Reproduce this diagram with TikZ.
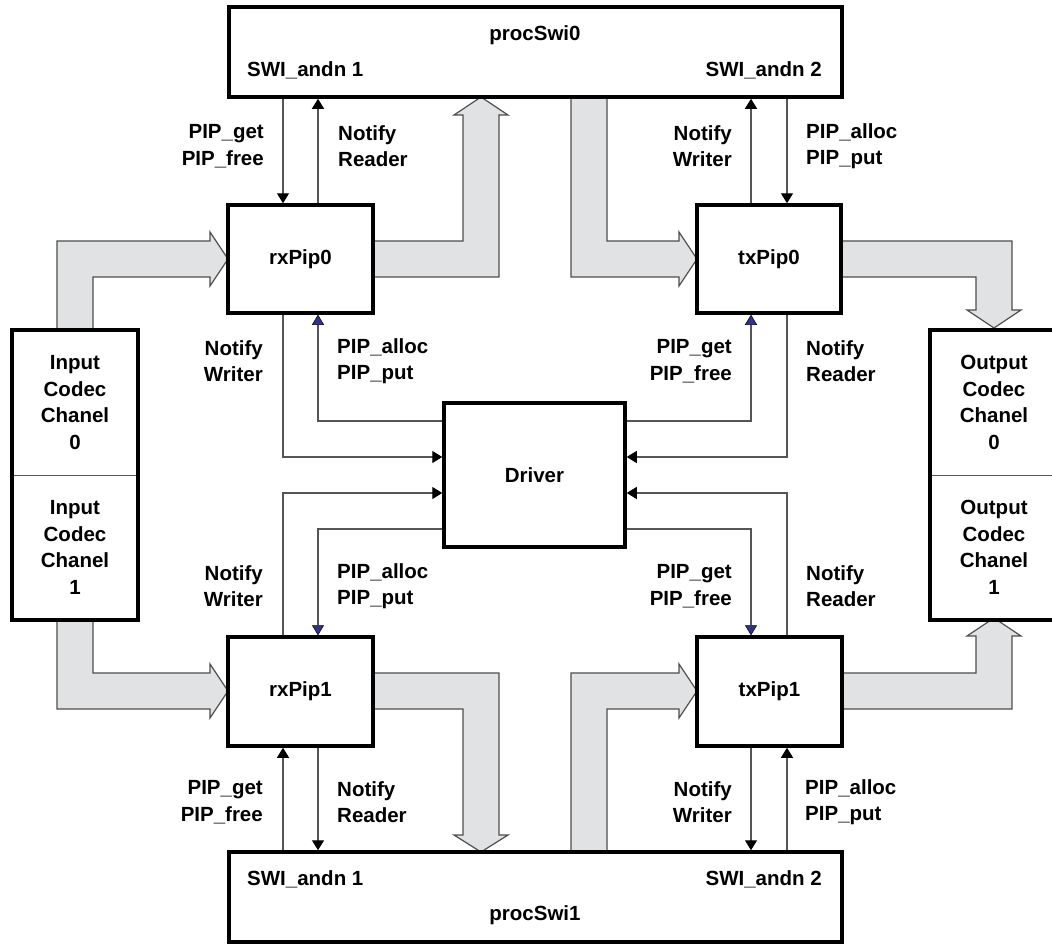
\documentclass[tikz,border=0pt]{standalone}
\usepackage{fontspec}
\setmainfont{Liberation Sans}
\usetikzlibrary{arrows.meta}
\definecolor{fatfill}{HTML}{E1E2E4}
\definecolor{fatdraw}{HTML}{4D4D4D}
\definecolor{connc}{HTML}{555555}
\definecolor{bluetip}{HTML}{2E3192}
\tikzset{
  lblfont/.style={font=\fontsize{20.5}{26.5}\selectfont\bfseries},
  box/.style={draw=black, line width=3.5pt, fill=white, inner sep=0pt},
  cell/.style={draw=connc, line width=1pt, inner sep=0pt, lblfont, align=center},
  txt/.style={lblfont, inner sep=0pt, align=center},
  lbll/.style={lblfont, inner sep=0pt, align=left, anchor=west},
  lblr/.style={lblfont, inner sep=0pt, align=right, anchor=east},
  fat/.style={fill=fatfill, draw=fatdraw, line width=1.2pt, line join=miter},
  conn/.style={draw=connc, line width=1.3pt},
  blk/.style={conn, -{Triangle[length=10pt,width=12pt,color=black]}},
  blu/.style={conn, -{Triangle[length=10pt,width=12pt,color=black,fill=bluetip,line width=0.5pt]}}
}
\begin{document}
\begin{tikzpicture}[x=1pt,y=-1pt]
\useasboundingbox (0,0) rectangle (1052,943);

% fat arrows
\draw[fat] (57,330) -- (57,241) -- (210,241) -- (210,232) -- (228,259) -- (210,286) -- (210,277) -- (93,277) -- (93,330);
\draw[fat] (57,620) -- (57,709) -- (210,709) -- (210,718) -- (228,691) -- (210,664) -- (210,673) -- (93,673) -- (93,620);
\draw[fat] (373,241) -- (463,241) -- (463,115) -- (454,115) -- (481,97) -- (508,115) -- (499,115) -- (499,277) -- (373,277);
\draw[fat] (373,673) -- (499,673) -- (499,835) -- (508,835) -- (481,852) -- (454,835) -- (463,835) -- (463,709) -- (373,709);
\draw[fat] (571,97) -- (571,277) -- (679,277) -- (679,286) -- (697,259) -- (679,232) -- (679,241) -- (607,241) -- (607,97);
\draw[fat] (571,852) -- (571,673) -- (679,673) -- (679,664) -- (697,691) -- (679,718) -- (679,709) -- (607,709) -- (607,852);
\draw[fat] (840,241) -- (1012,241) -- (1012,310) -- (1021,310) -- (994,328) -- (967,310) -- (976,310) -- (976,277) -- (840,277);
\draw[fat] (842,709) -- (1012,709) -- (1012,636) -- (1021,636) -- (994,618) -- (967,636) -- (976,636) -- (976,673) -- (842,673);

% boxes
\node[box, minimum width=613pt, minimum height=90pt] (swi0) at (535.5,52) {};
\node[box, minimum width=613pt, minimum height=90pt] (swi1) at (535.5,897) {};
\node[box, minimum width=145pt, minimum height=108pt, lblfont] (rx0) at (300.5,259) {rxPip0};
\node[box, minimum width=144pt, minimum height=108pt, lblfont] (tx0) at (769,259) {txPip0};
\node[box, minimum width=145pt, minimum height=109pt, lblfont] (rx1) at (300.5,691.5) {rxPip1};
\node[box, minimum width=145pt, minimum height=109pt, lblfont] (tx1) at (769.5,691.5) {txPip1};
\node[box, minimum width=181pt, minimum height=144pt, lblfont] (drv) at (534.5,475) {Driver};

\node[cell, fill=white, minimum width=126pt, minimum height=145pt] (in0) at (75,402.5) {Input\\Codec\\Chanel\\0};
\node[cell, fill=white, minimum width=126pt, minimum height=145pt] (in1) at (75,547.5) {Input\\Codec\\Chanel\\1};
\draw[line width=3.5pt] (12,330) rectangle (138,620);
\node[cell, fill=white, minimum width=128pt, minimum height=145pt] (out0) at (994,402.5) {Output\\Codec\\Chanel\\0};
\node[cell, fill=white, minimum width=128pt, minimum height=145pt] (out1) at (994,547.5) {Output\\Codec\\Chanel\\1};
\draw[line width=3.5pt] (930,330) rectangle (1058,620);

% texts inside proc boxes
\node[txt] (t0) at (535,35) {procSwi0};
\node[lbll] (a01) at (247,70) {SWI\_andn 1};
\node[lblr] (a02) at (822,70) {SWI\_andn 2};
\node[txt] (t1) at (535,915) {procSwi1};
\node[lbll] (a11) at (247,879) {SWI\_andn 1};
\node[lblr] (a12) at (822,879) {SWI\_andn 2};

% x / y levels
\coordinate (xa) at (283,0);
\coordinate (xb) at (318,0);
\coordinate (xc) at (751,0);
\coordinate (xd) at (787,0);
\coordinate (y1) at (0,421);
\coordinate (y2) at (0,457);
\coordinate (y3) at (0,493);
\coordinate (y4) at (0,529);

% thin connectors top
\draw[blk] (xa |- swi0.south) -- (xa |- rx0.north);
\draw[blk] (xb |- rx0.north) -- (xb |- swi0.south);
\draw[blk] (xc |- tx0.north) -- (xc |- swi0.south);
\draw[blk] (xd |- swi0.south) -- (xd |- tx0.north);
% driver
\draw[blk] (xa |- rx0.south) |- (drv.west |- y2);
\draw[blu] (drv.west |- y1) -| (xb |- rx0.south);
\draw[blk] (xa |- rx1.north) |- (drv.west |- y3);
\draw[blu] (drv.west |- y4) -| (xb |- rx1.north);
\draw[blu] (drv.east |- y1) -| (xc |- tx0.south);
\draw[blk] (xd |- tx0.south) |- (drv.east |- y2);
\draw[blk] (xd |- tx1.north) |- (drv.east |- y3);
\draw[blu] (drv.east |- y4) -| (xc |- tx1.north);
% bottom
\draw[blk] (xa |- swi1.north) -- (xa |- rx1.south);
\draw[blk] (xb |- rx1.south) -- (xb |- swi1.north);
\draw[blk] (xc |- tx1.south) -- (xc |- swi1.north);
\draw[blk] (xd |- swi1.north) -- (xd |- tx1.south);

% labels
\node[lblr] (l1) at (264,146) {PIP\_get\\PIP\_free};
\node[lbll] (l2) at (338,146) {Notify\\Reader};
\node[lblr] (l3) at (732,146) {Notify\\Writer};
\node[lbll] (l4) at (806,146) {PIP\_alloc\\PIP\_put};
\node[lblr] (l5) at (263,361) {Notify\\Writer};
\node[lbll] (l6) at (337,361) {PIP\_alloc\\PIP\_put};
\node[lblr] (l7) at (732,361) {PIP\_get\\PIP\_free};
\node[lbll] (l8) at (806,361) {Notify\\Reader};
\node[lblr] (l9) at (263,586) {Notify\\Writer};
\node[lbll] (l10) at (337,586) {PIP\_alloc\\PIP\_put};
\node[lblr] (l11) at (732,586) {PIP\_get\\PIP\_free};
\node[lbll] (l12) at (806,586) {Notify\\Reader};
\node[lblr] (l13) at (263,802) {PIP\_get\\PIP\_free};
\node[lbll] (l14) at (337,802) {Notify\\Reader};
\node[lblr] (l15) at (732,802) {Notify\\Writer};
\node[lbll] (l16) at (805,802) {PIP\_alloc\\PIP\_put};
\end{tikzpicture}
\end{document}
